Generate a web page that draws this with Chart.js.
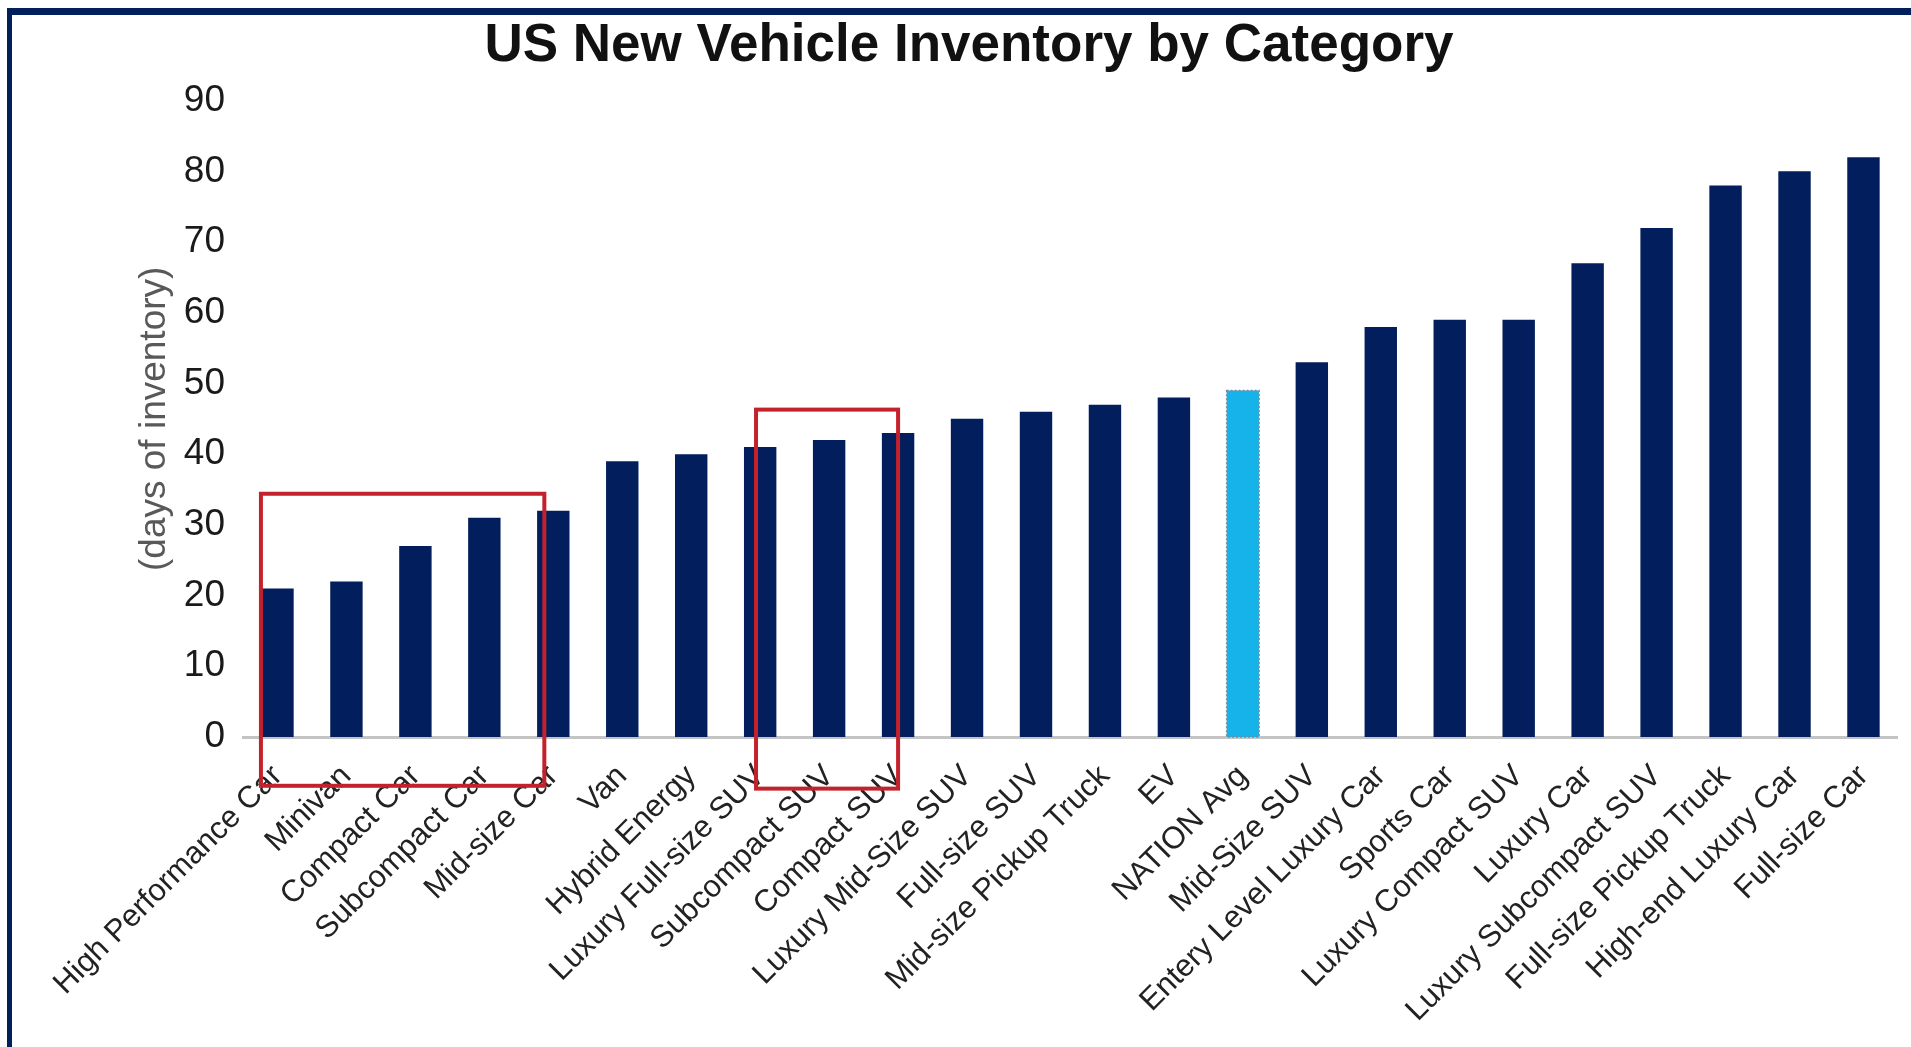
<!DOCTYPE html>
<html>
<head>
<meta charset="utf-8">
<title>US New Vehicle Inventory by Category</title>
<script src="https://cdn.jsdelivr.net/npm/chart.js@4.4.1/dist/chart.umd.min.js"></script>
<style>
  html, body { margin: 0; padding: 0; background: #fff; }
  #wrap { position: relative; width: 1911px; height: 1047px; overflow: hidden; }
  #frame {
    position: absolute; left: 7px; top: 8px; right: 0; bottom: 0;
    border-top: 7px solid #001f5b; border-left: 5px solid #001f5b;
    pointer-events: none;
  }
</style>
</head>
<body>
<div id="wrap">
  <canvas id="inventoryChart" width="1911" height="1047"></canvas>
  <div id="frame"></div>
</div>
<script>
// Chart data
const categories = [
  'High Performance Car', 'Minivan', 'Compact Car', 'Subcompact Car', 'Mid-size Car',
  'Van', 'Hybrid Energy', 'Luxury Full-size SUV', 'Subcompact SUV', 'Compact SUV',
  'Luxury Mid-Size SUV', 'Full-size SUV', 'Mid-size Pickup Truck', 'EV', 'NATION Avg',
  'Mid-Size SUV', 'Entery Level Luxury Car', 'Sports Car', 'Luxury Compact SUV', 'Luxury Car',
  'Luxury Subcompact SUV', 'Full-size Pickup Truck', 'High-end Luxury Car', 'Full-size Car'
];
const daysOfInventory = [21, 22, 27, 31, 32, 39, 40, 41, 42, 43, 45, 46, 47, 48, 49, 53, 58, 59, 59, 67, 72, 78, 80, 82];
const yTicks = [0, 10, 20, 30, 40, 50, 60, 70, 80, 90];
const highlightCategory = 'NATION Avg';

// Red callout boxes, in axis units (category index / days)
const callouts = [
  { from: -0.24, to: 3.87, top: 34.4, bottom: -6.9 },
  { from: 6.94, to: 9.0, top: 46.3, bottom: -7.3 }
];

const FONT = '"Liberation Sans", Arial, sans-serif';
const NAVY = '#021e5c';
const LIGHT_BLUE = '#16b2ea';

// Dotted outline on the national average bar
const avgOutline = {
  id: 'avgOutline',
  afterDatasetsDraw(chart) {
    const idx = categories.indexOf(highlightCategory);
    const bar = chart.getDatasetMeta(0).data[idx];
    if (!bar) return;
    const { x, y, base, width } = bar.getProps(['x', 'y', 'base', 'width'], true);
    const ctx = chart.ctx;
    ctx.save();
    ctx.setLineDash([2, 2]);
    ctx.strokeStyle = '#7d8a99';
    ctx.lineWidth = 1.5;
    ctx.strokeRect(x - width / 2, y, width, base - y);
    ctx.restore();
  }
};

// Red highlight boxes drawn over bars and labels
const calloutBoxes = {
  id: 'calloutBoxes',
  afterDraw(chart) {
    const { ctx, scales: { x, y } } = chart;
    ctx.save();
    ctx.strokeStyle = '#c3222c';
    ctx.lineWidth = 4;
    callouts.forEach(box => {
      const left = x.getPixelForValue(box.from);
      const right = x.getPixelForValue(box.to);
      const top = y.getPixelForValue(box.top);
      const bottom = y.getPixelForValue(box.bottom);
      ctx.strokeRect(left, top, right - left, bottom - top);
    });
    ctx.restore();
  }
};

function renderInventoryChart() {
  const ctx = document.getElementById('inventoryChart').getContext('2d');

  new Chart(ctx, {
    type: 'bar',
    data: {
      labels: categories,
      datasets: [{
        data: daysOfInventory,
        backgroundColor: categories.map(c => c === highlightCategory ? LIGHT_BLUE : NAVY),
        borderWidth: 0,
        barPercentage: 0.47,
        categoryPercentage: 1
      }]
    },
    options: {
      responsive: false,
      animation: false,
      layout: { padding: { left: 38, right: 11, top: 0, bottom: 0 } },
      plugins: {
        legend: { display: false },
        tooltip: { enabled: false },
        title: {
          display: true,
          text: 'US New Vehicle Inventory by Category',
          color: '#111',
          font: { family: FONT, size: 53, weight: 'bold', lineHeight: 1.2 },
          padding: { top: 15, bottom: 22 }
        }
      },
      scales: {
        x: {
          grid: { display: false, drawTicks: false },
          border: { display: true, color: '#c4c4c4', width: 3 },
          ticks: {
            autoSkip: false,
            minRotation: 45,
            maxRotation: 45,
            padding: 21,
            color: '#222',
            font: { family: FONT, size: 31 }
          },
          afterFit(scale) { scale.height = 310; }
        },
        y: {
          min: 0,
          max: 90,
          grid: { display: false, drawTicks: false },
          border: { display: false },
          afterBuildTicks(scale) { scale.ticks = yTicks.map(v => ({ value: v })); },
          ticks: {
            padding: 18,
            color: '#1a1a1a',
            font: { family: FONT, size: 37 }
          },
          title: {
            display: true,
            text: '(days of inventory)',
            color: '#595959',
            font: { family: FONT, size: 37, lineHeight: 1.2 },
            padding: { top: 95, bottom: 0 }
          },
          afterFit(scale) { scale.width = 205; }
        }
      }
    },
    plugins: [avgOutline, calloutBoxes]
  });
}

document.addEventListener('DOMContentLoaded', renderInventoryChart);
</script>
</body>
</html>
